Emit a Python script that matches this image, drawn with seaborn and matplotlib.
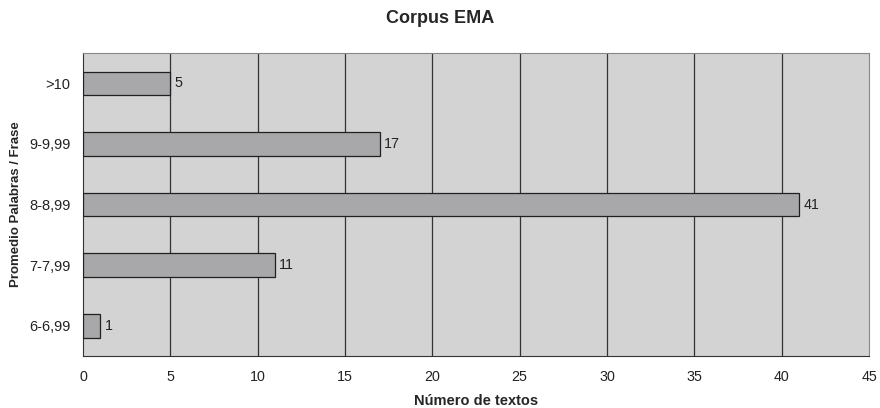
import matplotlib
matplotlib.use("Agg")
import matplotlib.pyplot as plt
import seaborn as sns
import pandas as pd

categories = [">10", "9-9,99", "8-8,99", "7-7,99", "6-6,99"]
counts = [5, 17, 41, 11, 1]
x_ticks = [0, 5, 10, 15, 20, 25, 30, 35, 40, 45]

sns.set_theme(style="white")
plt.rcParams["font.family"] = ["Liberation Sans", "DejaVu Sans"]

df = pd.DataFrame({"rango": categories, "textos": counts})

fig = plt.figure(figsize=(8.8, 4.08), dpi=100)
ax = fig.add_axes([0.0943, 0.1275, 0.8932, 0.7425])
ax.set_facecolor("#D3D3D3")

sns.barplot(data=df, y="rango", x="textos", order=categories, orient="h",
            color="#A8A8AA", saturation=1, width=0.39,
            edgecolor="#202020", linewidth=0.9, ax=ax, zorder=3)

ax.set_xlim(0, 45)
ax.set_ylim(len(categories) - 0.5, -0.5)
ax.set_xticks(x_ticks)
ax.set_xticklabels([str(t) for t in x_ticks], fontsize=10.3, color="#222222")
ax.tick_params(axis="x", direction="out", length=5, width=0.8, color="#333333", pad=5)

# category labels at bar centres, tick marks at category boundaries
ax.set_yticks(range(len(categories)))
ax.set_yticklabels(categories, fontsize=10.5, color="#222222")
ax.tick_params(axis="y", length=0, pad=9)
ax.set_yticks([i - 0.5 for i in range(len(categories) + 1)], minor=True)
ax.tick_params(axis="y", which="minor", direction="out", length=5, width=0.8, color="#333333")

for x in x_ticks[1:-1]:
    ax.axvline(x, color="#333333", linewidth=0.9, zorder=1)

for side in ["top", "right"]:
    ax.spines[side].set_color("#888888")
    ax.spines[side].set_linewidth(0.8)
for side in ["left", "bottom"]:
    ax.spines[side].set_color("#333333")
    ax.spines[side].set_linewidth(0.8)

for cont in ax.containers:
    ax.bar_label(cont, labels=[str(v) for v in counts], padding=3,
                 fontsize=10.3, color="#222222")

ax.set_xlabel("Número de textos", fontsize=10.5, fontweight="bold", labelpad=7)
ax.set_ylabel("Promedio Palabras / Frase", fontsize=9.5, fontweight="bold", labelpad=5)
fig.suptitle("Corpus EMA", fontsize=13, fontweight="bold", y=0.975)

fig.savefig("out.png", dpi=100)
